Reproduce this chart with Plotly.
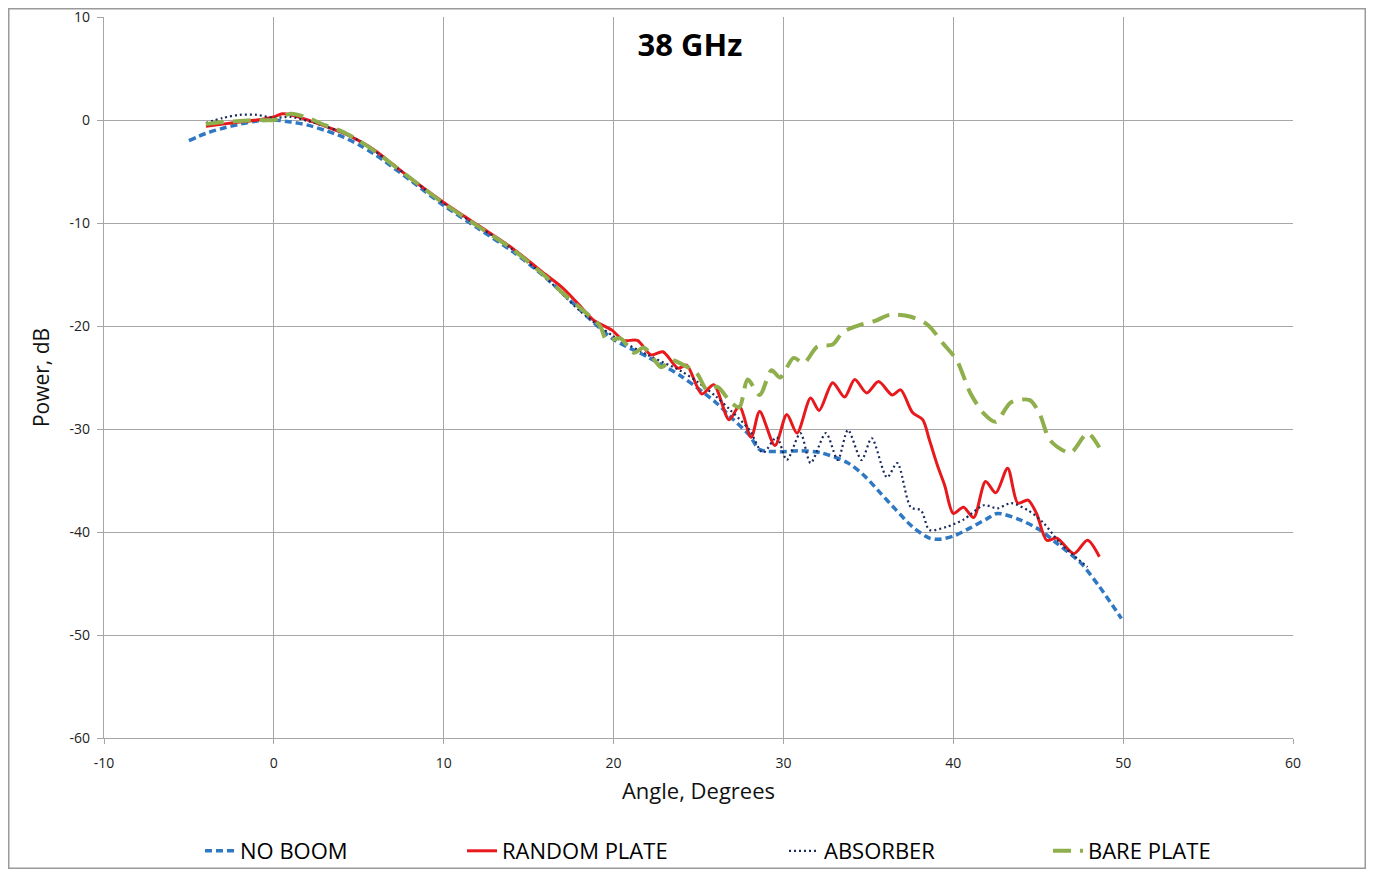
import plotly.graph_objects as go

# ---- data ----
nb_x = [-5, -4, -3, -2, -1, 0, 1, 2, 3, 4, 5, 6, 8, 10, 12, 14, 16, 18, 20, 22, 24, 26, 27, 28, 28.6, 29.8,
        31, 32.2, 33.8, 34.8, 35.7, 36.6, 37.6, 38.6, 39.2, 40, 41, 42, 42.6, 43.9, 45.1, 46.1, 47.5, 48.6, 49.9]
nb_y = [-2.0, -1.3, -0.8, -0.4, -0.1, 0.0, -0.2, -0.5, -1.0, -1.6, -2.4, -3.4, -5.8, -8.3, -10.5, -12.7, -15.3, -18.4,
        -21.3, -23.0, -24.9, -27.4, -29.0, -30.6, -32.0, -32.2, -32.1, -32.3, -33.3, -34.6, -36.2, -37.8, -39.5, -40.6,
        -40.7, -40.4, -39.6, -38.7, -38.2, -38.8, -39.8, -41.1, -43.0, -45.3, -48.4]

rp_x = [-4, -3, -2, -1, 0, 0.5, 1, 2, 3, 4, 5, 6, 7, 8, 10, 12, 14, 16, 17, 18, 18.8, 19.9, 20.6, 21.4, 22.2, 22.9,
        23.8, 24.3, 25.2, 25.9, 26.8, 27.4, 28.1, 28.6, 29.5, 30.2, 30.8, 31.6, 32.1, 32.9, 33.6, 34.2, 34.9, 35.6,
        36.4, 36.9, 37.6, 38.2, 38.6, 39.1, 39.5, 40.0, 40.6, 41.2, 41.9, 42.5, 43.2, 43.8, 44.4, 44.9, 45.5, 46.1,
        47.1, 47.9, 48.6]
rp_y = [-0.6, -0.4, -0.2, 0.0, 0.3, 0.6, 0.5, 0.0, -0.6, -1.2, -2.0, -3.0, -4.3, -5.6, -8.0, -10.2, -12.4, -15.0,
        -16.3, -18.0, -19.4, -20.4, -21.4, -21.4, -22.8, -22.5, -24.1, -23.8, -26.6, -25.7, -29.1, -27.8, -30.8, -28.3,
        -31.6, -28.6, -30.4, -27.0, -28.2, -25.5, -26.9, -25.2, -26.5, -25.4, -26.7, -26.2, -28.4, -29.1, -31.1, -33.7,
        -35.5, -38.2, -37.6, -38.6, -35.1, -36.2, -33.8, -37.2, -36.9, -38.2, -40.8, -40.6, -42.1, -40.8, -42.4]

ab_x = [-4, -3, -2, -1, 0, 1, 2, 3, 4, 5, 6, 8, 10, 12, 14, 16, 18, 20, 22, 24, 25, 26, 26.9, 28, 28.8, 29.6, 30.2,
        31, 31.6, 32.5, 33.2, 33.8, 34.6, 35.2, 36.1, 36.7, 37.5, 38.1, 38.6, 39.6, 40.6, 41.8, 42.6, 43.4, 44.4,
        45.3, 46.3, 47.9]
ab_y = [-0.3, 0.2, 0.5, 0.5, 0.2, 0.3, -0.1, -0.6, -1.2, -2.0, -3.1, -5.6, -8.1, -10.3, -12.5, -15.3, -18.5, -21.0,
        -22.8, -24.4, -25.5, -26.8, -28.2, -30.1, -32.3, -30.8, -33.0, -30.4, -33.3, -30.4, -33.0, -30.1, -33.0,
        -30.9, -34.7, -33.3, -37.6, -37.9, -39.8, -39.5, -38.8, -37.4, -37.7, -37.2, -37.9, -39.1, -41.1, -43.4]

bp_x = [-4, -3, -2, -1, 0, 1, 2, 3, 4, 5, 6, 8, 10, 12, 14, 16, 17, 18, 19.2, 19.6, 20.4, 21.2, 21.8, 22.8, 23.4,
        23.9, 24.9, 25.5, 26.1, 26.9, 27.4, 27.9, 28.6, 29.3, 29.8, 30.6, 31.2, 32.0, 32.9, 33.5, 34.5, 35.4, 36.3,
        37.5, 38.5, 39.4, 40.2, 41.0, 41.8, 42.5, 43.4, 44.5, 45.1, 45.7, 46.9, 47.9, 48.6]
bp_y = [-0.4, -0.2, -0.1, 0.0, 0.0, 0.6, 0.2, -0.5, -1.1, -2.0, -3.1, -5.6, -8.1, -10.3, -12.5, -15.2, -16.8, -18.2,
        -20.0, -21.4, -21.2, -22.6, -22.1, -24.0, -23.3, -23.6, -24.6, -26.2, -25.9, -27.4, -27.9, -25.2, -26.7,
        -24.3, -25.0, -23.1, -23.6, -22.0, -21.8, -20.6, -19.9, -19.5, -18.9, -19.1, -19.9, -21.7, -23.3, -26.5,
        -28.5, -29.3, -27.4, -27.2, -28.6, -31.1, -32.3, -30.4, -31.8]

x_ticks = [-10, 0, 10, 20, 30, 40, 50, 60]
x_labels = ["-10", "0", "10", "20", "30", "40", "50", "60"]
y_ticks = [10, 0, -10, -20, -30, -40, -50, -60]
y_labels = ["10", "0", "-10", "-20", "-30", "-40", "-50", "-60"]

FONT = "Open Sans, Lato, sans-serif"

# page is rendered with an 8px body margin, so figure is 1358x861 at offset (8,8)
W, H = 1358, 861
ML, MR, MT, MB = 96, 73, 9, 131
PW, PH = W - ML - MR, H - MT - MB

fig = go.Figure()
fig.add_trace(go.Scatter(x=nb_x, y=nb_y, name="NO BOOM", mode="lines", legend="legend",
                         line=dict(color="#2f78c4", width=3.5, dash="7px,4px", shape="spline", smoothing=0.8)))
fig.add_trace(go.Scatter(x=rp_x, y=rp_y, name="RANDOM PLATE", mode="lines", legend="legend2",
                         line=dict(color="#e8191c", width=3, shape="spline", smoothing=0.8)))
fig.add_trace(go.Scatter(x=ab_x, y=ab_y, name="ABSORBER", mode="lines", legend="legend3",
                         line=dict(color="#1c2a5c", width=2.2, dash="2px,3px", shape="spline", smoothing=0.8)))
fig.add_trace(go.Scatter(x=bp_x, y=bp_y, name="BARE PLATE", mode="lines", legend="legend4",
                         line=dict(color="#8fae4c", width=4, dash="18px,9px", shape="spline", smoothing=0.8)))


def leg(pos_px):
    return dict(orientation="h", x=(pos_px - 21 - ML) / PW, xanchor="left",
                y=(MT + PH - 843) / PH, yanchor="middle", bgcolor="rgba(0,0,0,0)",
                font=dict(size=22, family=FONT, color="#000"), itemwidth=30)


fig.update_layout(
    width=W, height=H,
    margin=dict(l=ML, r=MR, t=MT, b=MB, autoexpand=False),
    paper_bgcolor="white", plot_bgcolor="white",
    font=dict(family=FONT, color="#222"),
    title=dict(text="<b>38 GHz</b>", x=682 / W, xanchor="center", y=1 - 37 / H, yanchor="middle",
               font=dict(size=31, family=FONT, color="#000")),
    legend=leg(213), legend2=leg(475), legend3=leg(797), legend4=leg(1061),
    showlegend=True,
)
fig.update_xaxes(range=[-10, 60], tickvals=x_ticks, ticktext=x_labels, showgrid=True, gridcolor="#a6a6a6",
                 gridwidth=1.3, showline=True, linecolor="#a6a6a6", linewidth=1.3, zeroline=False,
                 automargin=False, ticks="outside", ticklen=5, tickcolor="#a6a6a6", ticklabelstandoff=7,
                 ticklabeloverflow="allow", tickfont=dict(size=14, color="#222"),
                 title=dict(text="Angle, Degrees", font=dict(size=22, color="#111"), standoff=12))
fig.update_yaxes(range=[-60, 10], tickvals=y_ticks, ticktext=y_labels, showgrid=True, gridcolor="#a6a6a6",
                 gridwidth=1.3, showline=True, linecolor="#a6a6a6", linewidth=1.3, zeroline=False,
                 automargin=False, ticks="outside", ticklen=6, tickcolor="#a6a6a6", ticklabelstandoff=4,
                 ticklabeloverflow="allow", tickfont=dict(size=14, color="#222"),
                 title=dict(text="Power, dB", font=dict(size=21, color="#111"), standoff=14))
# outer chart border at figure edges
fig.add_shape(type="rect", xref="paper", yref="paper",
              x0=(0.75 - ML) / PW, x1=(W - 0.75 - ML) / PW,
              y0=(MT + PH - (H - 0.75)) / PH, y1=(MT + PH - 0.75) / PH,
              line=dict(color="#9a9a9a", width=1.5), fillcolor="rgba(0,0,0,0)", layer="below")

fig.write_html("out.html")
